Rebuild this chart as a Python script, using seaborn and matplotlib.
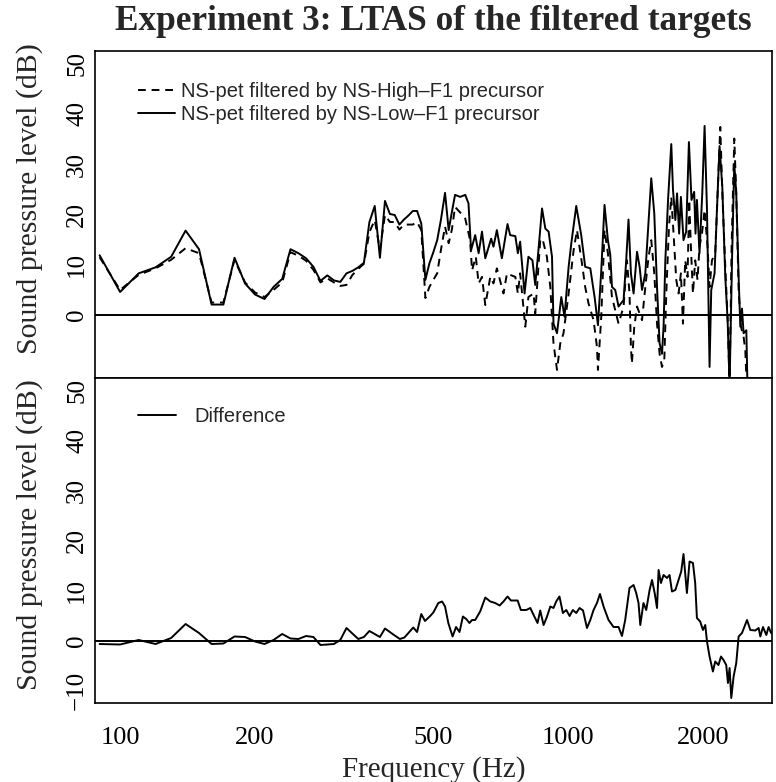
import numpy as np
import pandas as pd
import matplotlib
matplotlib.use("Agg")
import matplotlib.pyplot as plt
import seaborn as sns
from matplotlib.ticker import FixedLocator, NullLocator, FixedFormatter

# ---------------- data ----------------
low_freq = [90, 100, 110, 120, 130, 140, 150, 160, 170, 180, 190, 200, 210, 220, 230, 240,
            250, 260, 270, 280, 290, 300, 310, 320, 330, 340, 350, 360, 370, 380, 390, 400,
            410, 420, 430, 440, 450, 460, 470, 480, 490, 500, 510, 520, 531, 541, 550, 559,
            574, 589, 599, 607, 620, 631, 642, 653, 673, 681, 693, 711, 732, 742, 762, 772,
            781, 799, 815, 832, 844, 858, 874, 889, 904, 920, 927, 944, 965, 981, 1002, 1016,
            1042, 1069, 1091, 1120, 1145, 1165, 1185, 1205, 1226, 1241, 1252, 1273, 1295, 1329,
            1347, 1363, 1380, 1399, 1424, 1443, 1461, 1486, 1507, 1532, 1556, 1578, 1599, 1619,
            1632, 1647, 1670, 1698, 1713, 1734, 1749, 1768, 1784, 1808, 1833, 1859, 1884, 1910,
            1923, 1937, 1963, 1991, 2015, 2040, 2067, 2085, 2121, 2147, 2176, 2207, 2241, 2268,
            2291, 2320, 2347, 2371, 2400, 2421, 2442, 2462, 2497, 2514]
low_db = [11.9, 4.6, 8.3, 9.5, 11.6, 16.8, 13.1, 2.1, 2.1, 11.4, 6.3, 4.1, 3.2, 5.6, 7.2, 13.1,
          12.3, 11.3, 9.6, 6.8, 7.9, 6.9, 6.6, 8.3, 8.8, 9.5, 10.4, 18.5, 21.7, 11.4, 22.7, 20.1,
          19.9, 18.0, 19.0, 19.8, 20.7, 20.7, 18.2, 7.0, 10.3, 12.5, 14.9, 19.0, 24.3, 16.9, 20.5, 23.9,
          23.5, 23.9, 22.2, 12.9, 15.9, 12.3, 16.6, 11.3, 15.2, 13.6, 16.9, 11.3, 18.1, 15.9, 15.7, 12.3,
          14.6, 4.3, 11.6, 10.9, 6.0, 12.9, 21.2, 17.2, 16.6, 11.6, -1.7, -3.6, 3.6, -0.3, 9.6, 14.3,
          21.7, 15.9, 9.6, 9.3, 3.6, -2.0, 8.9, 21.9, 14.9, 12.0, 5.6, 5.0, 1.7, 3.0,
          10.9, 19.0, 8.3, 4.3, 12.6, 9.6, 5.0, 8.3, 16.9, 27.2, 20.2, 5.6, -5.6, -7.7,
          -2.3, 10.9, 22.9, 34.0, 24.9, 18.9, 24.2, 16.2, 23.5, 14.9, 16.6, 34.4, 22.9, 24.5,
          16.2, 22.9, 12.3, 24.2, 37.6, 20.9, -10.3, 5.0, 8.3, 20.9, 33.6, 25.5, 7.6, -1.0,
          -14.0, 10.9, 30.1, 24.2, 7.6, -2.3, 1.3, -3.6, -3.0, -16.0]

high_freq = [90, 100, 110, 120, 130, 140, 150, 160, 170, 180, 190, 200, 210, 220, 230, 240,
             250, 260, 270, 280, 290, 300, 310, 320, 330, 340, 350, 360, 370, 380, 390, 400,
             410, 420, 430, 440, 450, 460, 470, 480, 490, 500, 510, 520, 531, 541, 550, 559,
             574, 589, 604, 610, 622, 631, 642, 653, 670, 681, 693, 717, 730, 742, 762, 772,
             781, 802, 815, 837, 844, 866, 876, 896, 912, 927, 944, 960, 976, 1002, 1028, 1046,
             1073, 1091, 1110, 1139, 1159, 1165, 1185, 1205, 1226, 1252, 1295, 1329, 1352, 1370,
             1380, 1387, 1404, 1424, 1461, 1486, 1511, 1532, 1556, 1578, 1599, 1619, 1638, 1655,
             1678, 1698, 1718, 1742, 1763, 1784, 1803, 1824, 1846, 1862, 1878, 1898, 1920, 1943,
             1963, 1988, 2015, 2046, 2067, 2093, 2128, 2154, 2184, 2210, 2241, 2272, 2291, 2315,
             2347, 2371, 2400, 2429, 2462, 2484, 2506]
high_db = [11.5, 5.0, 8.0, 9.3, 11.0, 13.3, 12.3, 2.5, 2.5, 11.0, 6.5, 4.5, 3.6, 5.0, 6.5, 12.5,
           11.8, 10.8, 9.0, 6.5, 7.3, 6.5, 5.8, 6.0, 8.0, 9.2, 10.2, 16.5, 18.9, 13.0, 19.9, 18.5,
           18.5, 17.0, 18.0, 18.0, 18.0, 18.5, 16.9, 3.4, 5.6, 7.0, 8.3, 13.0, 17.6, 14.3, 17.0, 21.5,
           20.4, 19.2, 14.9, 8.9, 11.6, 6.3, 7.6, 2.0, 7.6, 6.3, 9.3, 4.3, 8.3, 8.0, 7.6, 4.3,
           8.3, -2.3, 3.6, 4.3, 0.3, 14.9, 15.2, 11.6, 5.6, -5.6, -10.9, -5.6, -3.6, 4.3, 12.9, 16.9,
           10.3, 5.6, 2.3, -1.0, -6.3, -10.9, -0.3, 16.9, 12.3, 3.6, -1.7, 1.7, 10.9, 4.3,
           -6.3, -9.6, -2.3, 1.7, -1.0, 5.6, 11.6, 14.9, 8.3, -1.7, -7.7, -10.3, -9.0, 4.3,
           17.6, 23.5, 16.2, 7.0, 4.3, 8.3, -1.7, 10.9, 7.6, 22.9, 13.6, 4.3, 10.9, 7.0,
           13.6, 16.2, 20.9, 13.6, 5.6, 10.9, 12.3, 24.2, 37.4, 22.9, 9.6, -2.3, -14.0, 13.6,
           35.1, 24.2, 5.0, -2.3, -4.3, -7.0, -16.0]

diff_freq = [90, 100, 110, 120, 130, 140, 150, 160, 170, 180, 190, 200, 210, 220, 230, 240,
             250, 260, 270, 280, 300, 310, 320, 340, 350, 360, 380, 390, 407, 421, 431, 451,
             460, 470, 479, 492, 500, 513, 523, 531, 540, 552, 562, 572, 582, 592, 602, 610,
             620, 636, 653, 670, 687, 703, 717, 732, 745, 771, 784, 806, 823, 837, 854, 866,
             881, 896, 912, 927, 940, 956, 973, 990, 1007, 1024, 1042, 1060, 1079, 1101, 1120, 1139,
             1159, 1177, 1200, 1230, 1262, 1295, 1318, 1340, 1370, 1399, 1418, 1435, 1448, 1472,
             1493, 1519, 1538, 1559, 1578, 1591, 1610, 1632, 1661, 1683, 1704, 1734, 1763, 1787,
             1808, 1840, 1865, 1898, 1920, 1937, 1970, 1998, 2022, 2040, 2067, 2103, 2128, 2164,
             2192, 2221, 2252, 2272, 2291, 2311, 2339, 2371, 2400, 2442, 2506, 2549, 2615, 2660,
             2683, 2720, 2767, 2800, 2835, 2873]
diff_db = [-0.7, -0.8, 0.1, -0.7, 0.5, 3.3, 1.5, -0.7, -0.6, 0.8, 0.7, -0.2, -0.7, 0.1, 1.3, 0.4,
           0.3, 0.9, 0.7, -0.9, -0.7, 0.1, 2.5, 0.3, 0.7, 1.9, 0.7, 2.4, 1.2, 0.3, 0.6, 2.6,
           1.7, 5.3, 3.9, 4.9, 5.6, 7.5, 7.8, 6.8, 3.5, 0.8, 2.7, 1.7, 4.8, 4.3, 3.5, 4.1,
           4.1, 5.8, 8.6, 7.8, 7.5, 7.0, 7.8, 8.8, 8.0, 8.0, 6.1, 6.1, 6.5, 5.1, 3.5, 6.0,
           3.1, 4.7, 6.8, 6.5, 7.8, 8.8, 5.5, 6.1, 4.9, 6.1, 5.5, 6.5, 6.0, 2.5, 4.1, 6.1,
           7.5, 9.3, 6.7, 4.1, 2.7, 2.7, 0.9, 4.1, 10.5, 11.1, 9.5, 7.5, 3.1, 7.5,
           6.1, 10.1, 12.1, 9.5, 6.5, 14.1, 11.5, 13.1, 12.5, 13.1, 9.8, 10.1, 12.1, 13.8,
           17.3, 9.5, 15.8, 15.5, 11.5, 4.5, 3.8, 2.1, 3.1, -0.2, -3.2, -6.2, -4.2, -4.9,
           -3.2, -3.9, -4.9, -8.5, -5.5, -11.5, -7.2, -4.5, 0.8, 1.5, 4.1, 2.1, 2.0, 2.5,
           0.8, 2.7, 1.1, 2.7, 1.5, 1.8]

x_ticks = [100, 200, 500, 1000, 2000]
x_tick_labels = ["100", "200", "500", "1000", "2000"]
top_y_ticks = [-10, 0, 10, 20, 30, 40, 50]
top_y_labels = ["", "0", "10", "20", "30", "40", "50"]
bot_y_ticks = [-10, 0, 10, 20, 30, 40, 50]
bot_y_labels = ["\u221210", "0", "10", "20", "30", "40", "50"]

label_high = "NS-pet filtered by NS-High\u2013F1 precursor"
label_low = "NS-pet filtered by NS-Low\u2013F1 precursor"
label_diff = "Difference"

# ---------------- figure ----------------
sns.set_theme(style="white")
plt.rcParams['font.family'] = ['Liberation Serif', 'DejaVu Serif']
plt.rcParams['axes.edgecolor'] = 'black'

W, H = 776, 782
fig = plt.figure(figsize=(W / 100, H / 100), dpi=100)
ax1 = fig.add_axes([95 / W, 1 - 378 / H, 677 / W, 327 / H])
ax2 = fig.add_axes([95 / W, 1 - 703 / H, 677 / W, 325 / H])

df_low = pd.DataFrame({"freq": low_freq, "db": low_db})
df_high = pd.DataFrame({"freq": high_freq, "db": high_db})
df_diff = pd.DataFrame({"freq": diff_freq, "db": diff_db})

for ax in (ax1, ax2):
    ax.set_xscale("log")

sns.lineplot(data=df_high, x="freq", y="db", ax=ax1, color="black", lw=1.4,
             linestyle=(0, (4, 3)), estimator=None, sort=False, label=label_high)
sns.lineplot(data=df_low, x="freq", y="db", ax=ax1, color="black", lw=1.4,
             estimator=None, sort=False, label=label_low)
sns.lineplot(data=df_diff, x="freq", y="db", ax=ax2, color="black", lw=1.4,
             estimator=None, sort=False, label=label_diff)

for ax, yt, yl in ((ax1, top_y_ticks, top_y_labels), (ax2, bot_y_ticks, bot_y_labels)):
    ax.axhline(0, color="black", lw=1.4, zorder=1)
    ax.set_xlim(87.9, 2849)
    ax.set_ylim(-12.5, 52.5)
    ax.xaxis.set_major_locator(FixedLocator(x_ticks))
    ax.xaxis.set_minor_locator(NullLocator())
    ax.yaxis.set_major_locator(FixedLocator(yt))
    ax.yaxis.set_minor_locator(NullLocator())
    ax.yaxis.set_major_formatter(FixedFormatter(yl))
    ax.set_xlabel("")
    ax.set_ylabel("")
    ax.tick_params(axis="both", which="major", direction="in", length=7.2, width=1.0,
                   color="black", labelcolor="black")
    ax.tick_params(axis="y", labelsize=18, pad=5, labelrotation=90)
    for t in ax.get_yticklabels():
        t.set_va("center")
    for s in ax.spines.values():
        s.set_visible(True)
        s.set_color("black")
        s.set_linewidth(1.2)

ax1.tick_params(axis="x", labelbottom=False)
ax2.xaxis.set_major_formatter(FixedFormatter(x_tick_labels))
ax2.tick_params(axis="x", labelsize=19, pad=17)

h1, l1 = ax1.get_legend_handles_labels()
ax1.legend(h1, l1, loc="upper left", bbox_to_anchor=(0.0635, 0.905), frameon=False,
           handlelength=1.85, handletextpad=0.3, borderpad=0, borderaxespad=0,
           labelspacing=0.22, prop={"family": "Liberation Sans", "size": 14.5})
h2, l2 = ax2.get_legend_handles_labels()
ax2.legend(h2, l2, loc="upper left", bbox_to_anchor=(0.0635, 0.91), frameon=False,
           handlelength=1.9, handletextpad=0.9, borderpad=0, borderaxespad=0,
           prop={"family": "Liberation Sans", "size": 14.5})

fig.text(433.5 / W, 1 - 22 / H, "Experiment 3: LTAS of the filtered targets",
         ha="center", va="center", fontsize=25.4, fontweight="bold")
fig.text(30 / W, 1 - 199 / H, "Sound pressure level (dB)", rotation=90,
         ha="center", va="center", fontsize=21.5)
fig.text(30 / W, 1 - 535 / H, "Sound pressure level (dB)", rotation=90,
         ha="center", va="center", fontsize=21.5)
fig.text(433.5 / W, 1 - 770 / H, "Frequency (Hz)", ha="center", va="center", fontsize=21)

fig.savefig("out.png", dpi=100)
